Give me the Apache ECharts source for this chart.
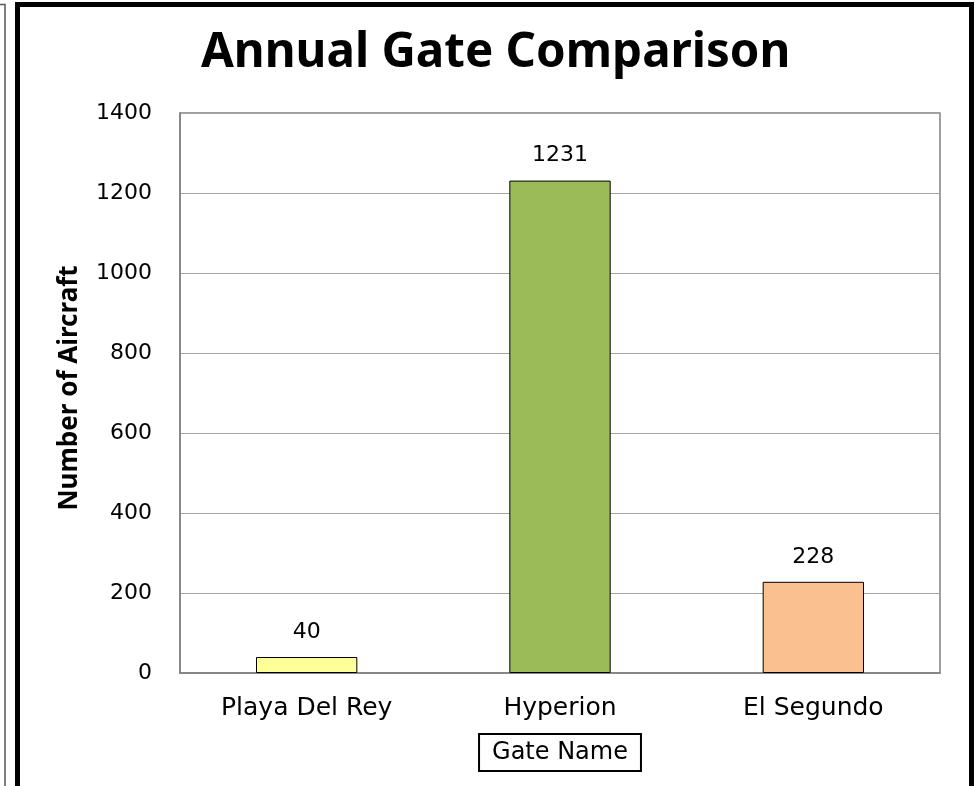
<!DOCTYPE html>
<html>
<head>
<meta charset="utf-8">
<script src="https://cdn.jsdelivr.net/npm/echarts@6/dist/echarts.min.js"></script>
<style>
  html, body { margin: 0; padding: 0; background: #fff; overflow: hidden; }
  #chart { width: 975px; height: 786px; }
</style>
</head>
<body>
<div id="chart"></div>
<script>
const gates = ['Playa Del Rey', 'Hyperion', 'El Segundo']
const aircraft = [40, 1231, 228]
const barColors = ['#ffff99', '#9bbb59', '#fac090']

const font = "'DejaVu Sans', sans-serif"
const boldFont = "'Noto Sans', 'DejaVu Sans', sans-serif"

const chart = echarts.init(document.getElementById('chart'))

const option = {
  backgroundColor: '#fff',
  animation: false,
  textStyle: { fontFamily: font },
  title: {
    text: 'Annual Gate Comparison',
    left: 196,
    top: 24,
    textStyle: {
      fontFamily: boldFont,
      fontSize: 47.5,
      fontWeight: 'bold',
      color: '#000'
    }
  },
  // outer frame lines
  graphic: [
    {
      type: 'rect',
      shape: { x: 17.5, y: 4.5, width: 954, height: 800 },
      style: { fill: 'none', stroke: '#000', lineWidth: 5 }
    },
    {
      type: 'rect',
      shape: { x: -20, y: 4.5, width: 25, height: 800 },
      style: { fill: 'none', stroke: '#555', lineWidth: 1.5 }
    }
  ],
  grid: {
    left: 180,
    width: 760,
    top: 113,
    height: 560,
    show: true,
    borderColor: '#808080',
    borderWidth: 1.5
  },
  xAxis: {
    type: 'category',
    data: gates,
    name: 'Gate Name',
    nameLocation: 'middle',
    nameGap: 61,
    nameTextStyle: {
      fontFamily: font,
      fontSize: 24,
      color: '#000',
      borderColor: '#000',
      borderWidth: 2,
      padding: [7, 13, 6, 13]
    },
    axisLine: { lineStyle: { color: '#808080', width: 1.5 } },
    axisTick: { show: false },
    axisLabel: {
      color: '#000',
      fontSize: 25,
      margin: 23
    }
  },
  yAxis: {
    type: 'value',
    min: 0,
    max: 1400,
    interval: 200,
    name: 'Number of Aircraft',
    nameLocation: 'middle',
    nameGap: 97,
    nameTextStyle: {
      fontFamily: boldFont,
      fontSize: 26,
      fontWeight: 'bold',
      color: '#000',
      padding: [0, 0, 0, 10]
    },
    axisLine: { show: true, lineStyle: { color: '#808080', width: 1.5 } },
    axisTick: { show: false },
    axisLabel: {
      color: '#000',
      fontSize: 22,
      margin: 28,
      formatter: v => String(v)
    },
    splitLine: { lineStyle: { color: '#a6a6a6', width: 1 } }
  },
  series: [
    {
      type: 'bar',
      data: aircraft.map((v, i) => ({
        value: v,
        itemStyle: { color: barColors[i] }
      })),
      barWidth: '40%',
      itemStyle: { borderColor: '#000', borderWidth: 1 },
      label: {
        show: true,
        position: 'top',
        distance: 14,
        fontFamily: font,
        fontSize: 22,
        color: '#000'
      }
    }
  ]
}

chart.setOption(option)
</script>
</body>
</html>
